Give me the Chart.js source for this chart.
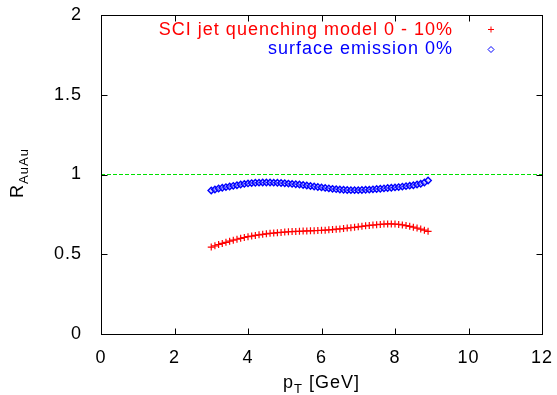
<!DOCTYPE html>
<html>
<head>
<meta charset="utf-8">
<script src="https://cdn.jsdelivr.net/npm/chart.js@4/dist/chart.umd.min.js"></script>
<style>
  html, body { margin: 0; padding: 0; background: #fff; }
  #wrap { width: 557px; height: 395px; position: relative; }
</style>
</head>
<body>
<div id="wrap"><canvas id="c"></canvas></div>
<script>
// pT grid of the model curves [GeV]
const ptValues = [
  3.0, 3.1, 3.2, 3.3, 3.4, 3.5, 3.6, 3.7, 3.8, 3.9,
  4.0, 4.1, 4.2, 4.3, 4.4, 4.5, 4.6, 4.7, 4.8, 4.9,
  5.0, 5.1, 5.2, 5.3, 5.4, 5.5, 5.6, 5.7, 5.8, 5.9,
  6.0, 6.1, 6.2, 6.3, 6.4, 6.5, 6.6, 6.7, 6.8, 6.9,
  7.0, 7.1, 7.2, 7.3, 7.4, 7.5, 7.6, 7.7, 7.8, 7.9,
  8.0, 8.1, 8.2, 8.3, 8.4, 8.5, 8.6, 8.7, 8.8, 8.9
];

// R_AuAu, SCI jet quenching model, 0 - 10% centrality
const sciRaa = [
  0.545, 0.553, 0.561, 0.568, 0.575, 0.582, 0.588, 0.594, 0.600, 0.605,
  0.610, 0.614, 0.618, 0.622, 0.625, 0.628, 0.631, 0.633, 0.635, 0.637,
  0.639, 0.641, 0.642, 0.643, 0.644, 0.645, 0.646, 0.647, 0.648, 0.649,
  0.650, 0.651, 0.653, 0.655, 0.657, 0.659, 0.661, 0.664, 0.666, 0.669,
  0.672, 0.675, 0.678, 0.681, 0.683, 0.685, 0.687, 0.689, 0.690, 0.690,
  0.689, 0.687, 0.684, 0.680, 0.675, 0.670, 0.664, 0.658, 0.651, 0.644
];

// R_AuAu, surface emission, 0%
const surfaceRaa = [
  0.900, 0.906, 0.912, 0.917, 0.921, 0.925, 0.929, 0.933, 0.937, 0.941,
  0.944, 0.946, 0.948, 0.949, 0.950, 0.950, 0.950, 0.949, 0.948, 0.947,
  0.945, 0.943, 0.941, 0.939, 0.937, 0.934, 0.931, 0.928, 0.925, 0.922,
  0.919, 0.916, 0.913, 0.910, 0.908, 0.906, 0.904, 0.903, 0.902, 0.902,
  0.902, 0.903, 0.904, 0.905, 0.907, 0.909, 0.911, 0.913, 0.915, 0.917,
  0.919, 0.921, 0.924, 0.927, 0.930, 0.933, 0.937, 0.942, 0.950, 0.962
];

// unit reference line R_AuAu = 1
const unityX = [0, 12];
const unityY = [1, 1];

// axis ranges, tick values and tick labels
const xRange = [0, 12];
const yRange = [0, 2];
const xTickValues = [0, 2, 4, 6, 8, 10, 12];
const xTickLabels = ['0', '2', '4', '6', '8', '10', '12'];
const yTickValues = [0, 0.5, 1, 1.5, 2];
const yTickLabels = ['0', '0.5', '1', '1.5', '2'];

const seriesLabels = ['SCI jet quenching model 0 - 10%', 'surface emission 0%'];

const FONT = '"Liberation Sans", Arial, Helvetica, sans-serif';
const FONT_SIZE = 18;
const SPACING = '1px';
const RED = '#ff0000';
const BLUE = '#0000ff';
const GREEN = '#00e000';

const toXY = (xs, ys) => xs.map((x, i) => ({ x: x, y: ys[i] }));
const labelFor = (values, labels) => v => {
  const i = values.findIndex(t => Math.abs(t - v) < 1e-9);
  return i < 0 ? '' : labels[i];
};

// slightly open letter spacing for every text on the canvas
const spacingPlugin = {
  id: 'spacing',
  beforeUpdate(chart) { chart.ctx.letterSpacing = SPACING; },
  beforeDraw(chart) { chart.ctx.letterSpacing = SPACING; }
};

// frame with inward ticks on all four sides
const framePlugin = {
  id: 'frame',
  afterDraw(chart) {
    const { ctx, chartArea: a, scales } = chart;
    const L = Math.round(a.left) + 0.5, R = Math.round(a.right) + 0.5;
    const T = Math.round(a.top) + 0.5, B = Math.round(a.bottom) + 0.5;
    ctx.save();
    ctx.strokeStyle = '#000';
    ctx.lineWidth = 1;
    ctx.beginPath();
    const tl = 6;
    scales.x.ticks.forEach(t => {
      const px = Math.round(scales.x.getPixelForValue(t.value)) + 0.5;
      ctx.moveTo(px, B); ctx.lineTo(px, B - tl);
      ctx.moveTo(px, T); ctx.lineTo(px, T + tl);
    });
    scales.y.ticks.forEach(t => {
      const py = Math.round(scales.y.getPixelForValue(t.value)) + 0.5;
      ctx.moveTo(L, py); ctx.lineTo(L + tl, py);
      ctx.moveTo(R, py); ctx.lineTo(R - tl, py);
    });
    ctx.stroke();
    ctx.strokeRect(L, T, R - L, B - T);
    ctx.restore();
  }
};

// axis titles with subscripts
const titlePlugin = {
  id: 'titles',
  afterDraw(chart) {
    const { ctx, chartArea: a } = chart;
    ctx.save();
    ctx.letterSpacing = SPACING;
    ctx.fillStyle = '#000';
    ctx.textBaseline = 'alphabetic';
    ctx.textAlign = 'left';
    const big = FONT_SIZE + 'px ' + FONT, small = '13px ' + FONT;

    // x title: p_T [GeV]
    ctx.font = big; const wP = ctx.measureText('p').width;
    ctx.font = small; const wT = ctx.measureText('T').width;
    ctx.font = big; const wG = ctx.measureText(' [GeV]').width;
    const total = wP + wT + wG;
    let x = (a.left + a.right) / 2 - total / 2;
    const base = 388;
    ctx.font = big; ctx.fillText('p', x, base); x += wP;
    ctx.font = small; ctx.fillText('T', x, base + 5); x += wT;
    ctx.font = big; ctx.fillText(' [GeV]', x, base);

    // y title: R_AuAu (rotated)
    ctx.font = big; const wR = ctx.measureText('R').width;
    ctx.font = small; const wA = ctx.measureText('AuAu').width;
    const len = wR + wA;
    ctx.translate(23, 173);
    ctx.rotate(-Math.PI / 2);
    let y = -len / 2;
    ctx.font = big; ctx.fillText('R', y, 0); y += wR;
    ctx.font = small; ctx.fillText('AuAu', y, 5);
    ctx.restore();
  }
};

// key in the upper right of the plot
const keyPlugin = {
  id: 'key',
  afterDraw(chart) {
    const { ctx } = chart;
    const ds = chart.data.datasets;
    const rows = [
      { label: ds[1].label, color: ds[1].borderColor, style: 'cross', base: 35, my: 29.5 },
      { label: ds[2].label, color: ds[2].borderColor, style: 'diamond', base: 54, my: 49.5 }
    ];
    ctx.save();
    ctx.letterSpacing = SPACING;
    ctx.font = FONT_SIZE + 'px ' + FONT;
    ctx.textAlign = 'right';
    ctx.textBaseline = 'alphabetic';
    rows.forEach(r => {
      ctx.fillStyle = r.color;
      ctx.fillText(r.label, 453, r.base);
      ctx.strokeStyle = r.color;
      ctx.lineWidth = 1;
      const mx = 491;
      ctx.beginPath();
      if (r.style === 'cross') {
        ctx.moveTo(mx - 3, r.my); ctx.lineTo(mx + 3, r.my);
        ctx.moveTo(mx, r.my - 3); ctx.lineTo(mx, r.my + 3);
      } else {
        ctx.moveTo(mx, r.my - 3); ctx.lineTo(mx + 3, r.my);
        ctx.lineTo(mx, r.my + 3); ctx.lineTo(mx - 3, r.my); ctx.closePath();
      }
      ctx.stroke();
    });
    ctx.restore();
  }
};

new Chart(document.getElementById('c'), {
  type: 'scatter',
  data: {
    datasets: [
      {
        label: 'unity',
        data: toXY(unityX, unityY),
        showLine: true,
        borderColor: GREEN,
        borderWidth: 1.2,
        borderDash: [4, 2],
        pointRadius: 0,
        order: 3
      },
      {
        label: seriesLabels[0],
        data: toXY(ptValues, sciRaa),
        borderColor: RED,
        backgroundColor: RED,
        pointStyle: 'cross',
        pointRadius: 3.5,
        pointBorderWidth: 1.2,
        showLine: false,
        order: 2
      },
      {
        label: seriesLabels[1],
        data: toXY(ptValues, surfaceRaa),
        borderColor: BLUE,
        backgroundColor: 'rgba(180,180,255,0.5)',
        pointStyle: 'rectRot',
        pointRadius: 3.2,
        pointBorderWidth: 1.4,
        showLine: false,
        order: 1
      }
    ]
  },
  options: {
    responsive: true,
    maintainAspectRatio: false,
    animation: false,
    events: [],
    layout: { padding: { left: 0, top: 15, right: 15, bottom: 0 } },
    plugins: {
      legend: { display: false },
      tooltip: { enabled: false }
    },
    scales: {
      x: {
        type: 'linear',
        min: xRange[0],
        max: xRange[1],
        grid: { display: false },
        border: { display: false },
        afterBuildTicks(scale) { scale.ticks = xTickValues.map(v => ({ value: v })); },
        ticks: {
          color: '#000',
          padding: 5,
          maxRotation: 0,
          font: { family: FONT, size: FONT_SIZE },
          callback: labelFor(xTickValues, xTickLabels)
        },
        afterFit(scale) {
          scale.height = 61;
          scale.paddingLeft = 0; scale.paddingRight = 0;
        }
      },
      y: {
        type: 'linear',
        min: yRange[0],
        max: yRange[1],
        grid: { display: false },
        border: { display: false },
        afterBuildTicks(scale) { scale.ticks = yTickValues.map(v => ({ value: v })); },
        ticks: {
          color: '#000',
          padding: 11,
          font: { family: FONT, size: FONT_SIZE },
          callback: labelFor(yTickValues, yTickLabels)
        },
        afterFit(scale) {
          scale.width = 101;
          scale.paddingTop = 0; scale.paddingBottom = 0;
        }
      }
    }
  },
  plugins: [spacingPlugin, framePlugin, titlePlugin, keyPlugin]
});
</script>
</body>
</html>
